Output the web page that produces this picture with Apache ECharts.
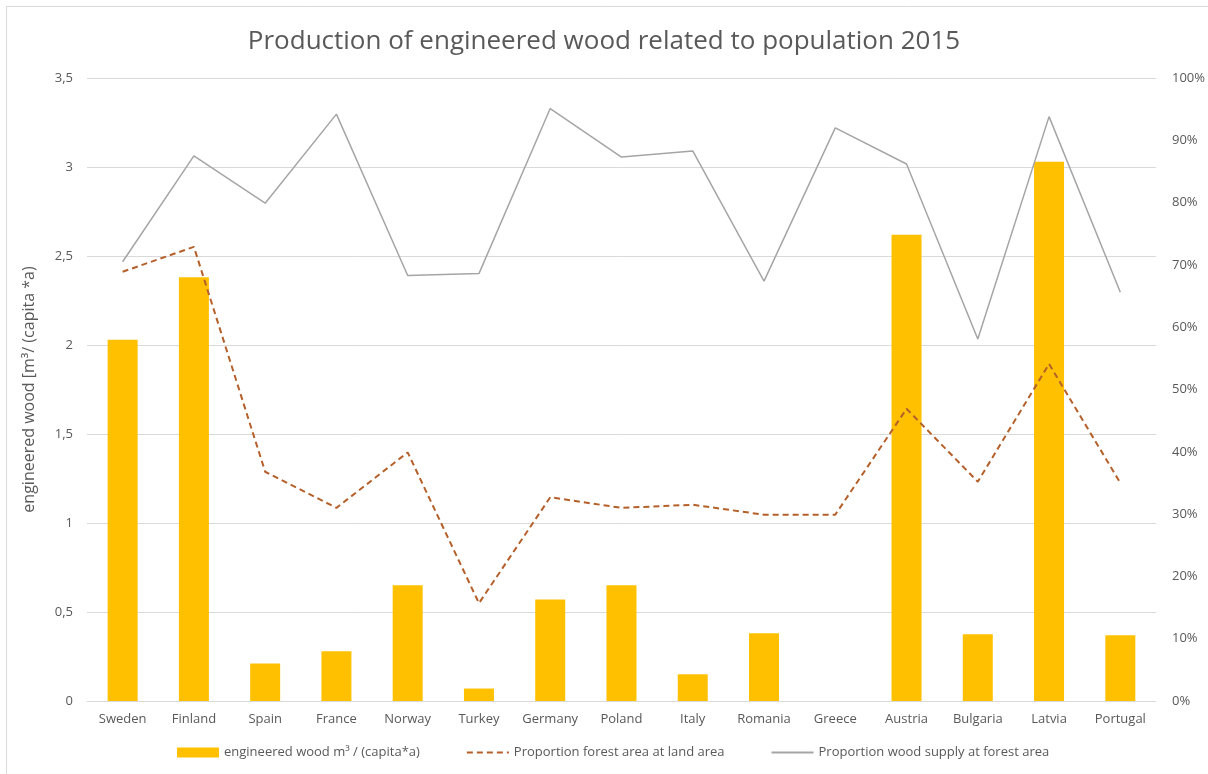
<!DOCTYPE html>
<html>
<head>
<meta charset="utf-8">
<script src="https://cdn.jsdelivr.net/npm/echarts@6/dist/echarts.min.js"></script>
<style>
  html, body { margin: 0; padding: 0; background: #fff; }
  #chart { width: 1208px; height: 774px; }
</style>
</head>
<body>
<div id="chart"></div>
<script>
// Countries shown along the horizontal axis
const countries = ['Sweden', 'Finland', 'Spain', 'France', 'Norway', 'Turkey', 'Germany', 'Poland',
  'Italy', 'Romania', 'Greece', 'Austria', 'Bulgaria', 'Latvia', 'Portugal'];

// Engineered wood production per inhabitant, m³ / (capita*a)
const engineeredWood = [2.03, 2.38, 0.21, 0.28, 0.65, 0.07, 0.57, 0.65, 0.15, 0.38, 0, 2.62, 0.375, 3.03, 0.37];

// Share of forest area in land area, %
const forestShare = [68.9, 72.9, 36.8, 31.0, 39.9, 15.7, 32.7, 31.0, 31.5, 29.9, 29.9, 46.9, 35.2, 54.1, 35.0];

// Share of wood supply in forest area, %
const woodSupplyShare = [70.5, 87.5, 79.9, 94.2, 68.3, 68.6, 95.1, 87.3, 88.3, 67.4, 92.0, 86.2, 58.1, 93.8, 65.6];

// Axis tick settings
const leftAxisMax = 3.5, leftAxisStep = 0.5;
const rightAxisMax = 100, rightAxisStep = 10;

const seriesNames = ['engineered wood m³ / (capita*a)', 'Proportion forest area at land area', 'Proportion wood supply at forest area'];

const textColor = '#595959';
const gridColor = '#D9D9D9';
const font = 'Open Sans';

const chart = echarts.init(document.getElementById('chart'), null, { renderer: 'canvas' });

chart.setOption({
  backgroundColor: '#ffffff',
  animation: false,
  textStyle: { fontFamily: font },
  graphic: [{
    type: 'rect',
    shape: { x: 6.5, y: 6.5, width: 1220, height: 800 },
    style: { fill: 'none', stroke: '#D9D9D9', lineWidth: 1 },
    silent: true
  }],
  title: {
    text: 'Production of engineered wood related to population 2015',
    left: 'center',
    top: 24,
    textStyle: { fontFamily: font, fontSize: 26, fontWeight: 'normal', color: textColor }
  },
  grid: { left: 87, right: 52, top: 78, bottom: 73, containLabel: false },
  legend: {
    bottom: 10,
    left: 172,
    itemWidth: 42,
    itemHeight: 10,
    itemGap: 46,
    textStyle: { fontFamily: font, fontSize: 13, color: textColor },
    data: [
      { name: seriesNames[0], icon: 'rect' },
      { name: seriesNames[1], itemStyle: { opacity: 0 } },
      { name: seriesNames[2], itemStyle: { opacity: 0 } }
    ]
  },
  xAxis: {
    type: 'category',
    data: countries,
    axisLine: { show: true, lineStyle: { color: gridColor, width: 1 } },
    axisTick: { show: false },
    axisLabel: { color: textColor, fontSize: 13, fontFamily: font, margin: 12, interval: 0 }
  },
  yAxis: [{
    type: 'value',
    min: 0,
    max: leftAxisMax,
    interval: leftAxisStep,
    name: 'engineered wood [m³/ (capita *a)',
    nameLocation: 'middle',
    nameGap: 50,
    nameTextStyle: { color: textColor, fontSize: 16, fontFamily: font },
    axisLine: { show: false },
    axisTick: { show: false },
    axisLabel: {
      color: textColor, fontSize: 13, fontFamily: font, margin: 14,
      formatter: v => String(v).replace('.', ',')
    },
    splitLine: { lineStyle: { color: gridColor, width: 1 } }
  }, {
    type: 'value',
    min: 0,
    max: rightAxisMax,
    interval: rightAxisStep,
    axisLine: { show: false },
    axisTick: { show: false },
    axisLabel: { color: textColor, fontSize: 13, fontFamily: font, margin: 16, formatter: '{value}%' },
    splitLine: { show: false }
  }],
  series: [{
    name: seriesNames[0],
    type: 'bar',
    yAxisIndex: 0,
    data: engineeredWood,
    barWidth: 30,
    itemStyle: { color: '#FFC000' }
  }, {
    name: seriesNames[1],
    type: 'line',
    yAxisIndex: 1,
    data: forestShare,
    symbol: 'none',
    lineStyle: { color: '#B5602A', width: 2, type: [6, 4] },
    itemStyle: { color: '#B5602A' }
  }, {
    name: seriesNames[2],
    type: 'line',
    yAxisIndex: 1,
    data: woodSupplyShare,
    symbol: 'none',
    lineStyle: { color: '#A5A5A5', width: 1.5 },
    itemStyle: { color: '#A5A5A5' }
  }]
});
</script>
</body>
</html>
